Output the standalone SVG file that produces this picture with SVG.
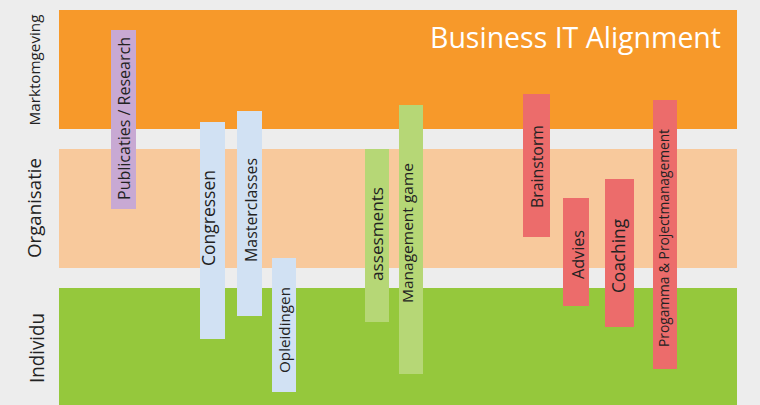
<svg xmlns="http://www.w3.org/2000/svg" width="760" height="405" viewBox="0 0 760 405">
<style>
.lbl{font-family:"Open Sans","Liberation Sans",sans-serif;fill:#222;text-anchor:middle}
.band-lbl{font-family:"Open Sans","Liberation Sans",sans-serif;fill:#222;text-anchor:middle}
.title{font-family:"Open Sans","Liberation Sans",sans-serif;fill:#fff;text-anchor:end}
.pur{fill:#C8A9D3}
.blu{fill:#D1E1F3}
.lgr{fill:#B6D776}
.red{fill:#EC6C6B}
</style>
<rect x="0" y="0" width="760" height="405" fill="#EDEDED"/>
<g id="band-markt">
<rect x="59" y="10" width="678" height="119" fill="#F7992A"/>
<text class="band-lbl" transform="translate(40,70) rotate(-90)" font-size="15" textLength="111" lengthAdjust="spacingAndGlyphs">Marktomgeving</text>
<text class="title" x="721" y="48" font-size="30" textLength="291" lengthAdjust="spacingAndGlyphs">Business IT Alignment</text>
</g>
<g id="band-org">
<rect x="59" y="149" width="678" height="119" fill="#F8C99C"/>
<text class="band-lbl" transform="translate(41,208) rotate(-90)" font-size="18" textLength="100" lengthAdjust="spacingAndGlyphs">Organisatie</text>
</g>
<g id="band-ind">
<rect x="59" y="288" width="678" height="117" fill="#95C83C"/>
<text class="band-lbl" transform="translate(44,348) rotate(-90)" font-size="19.5" textLength="70" lengthAdjust="spacingAndGlyphs">Individu</text>
</g>
<g id="publicaties">
<rect class="pur" x="111" y="30" width="25" height="179"/>
<text class="lbl" transform="translate(130,118.5) rotate(-90)" font-size="16" textLength="163" lengthAdjust="spacingAndGlyphs">Publicaties / Research</text>
</g>
<g id="congressen">
<rect class="blu" x="200" y="122" width="25" height="217"/>
<text class="lbl" transform="translate(214.5,218) rotate(-90)" font-size="17.5" textLength="96" lengthAdjust="spacingAndGlyphs">Congressen</text>
</g>
<g id="masterclasses">
<rect class="blu" x="237" y="111" width="25" height="205"/>
<text class="lbl" transform="translate(256.5,210) rotate(-90)" font-size="16" textLength="104" lengthAdjust="spacingAndGlyphs">Masterclasses</text>
</g>
<g id="opleidingen">
<rect class="blu" x="272" y="258" width="24" height="134"/>
<text class="lbl" transform="translate(290,330) rotate(-90)" font-size="14.5" textLength="86" lengthAdjust="spacingAndGlyphs">Opleidingen</text>
</g>
<g id="assesments">
<rect class="lgr" x="365" y="149" width="24" height="173"/>
<text class="lbl" transform="translate(382.5,234) rotate(-90)" font-size="17" textLength="94" lengthAdjust="spacingAndGlyphs">assesments</text>
</g>
<g id="management-game">
<rect class="lgr" x="399" y="105" width="24" height="269"/>
<text class="lbl" transform="translate(413,233) rotate(-90)" font-size="15" textLength="140" lengthAdjust="spacingAndGlyphs">Management game</text>
</g>
<g id="brainstorm">
<rect class="red" x="523" y="94" width="27" height="143"/>
<text class="lbl" transform="translate(542.5,166.5) rotate(-90)" font-size="16" textLength="83" lengthAdjust="spacingAndGlyphs">Brainstorm</text>
</g>
<g id="advies">
<rect class="red" x="563" y="198" width="26" height="108"/>
<text class="lbl" transform="translate(584,254.5) rotate(-90)" font-size="16" textLength="49" lengthAdjust="spacingAndGlyphs">Advies</text>
</g>
<g id="coaching">
<rect class="red" x="605" y="179" width="29" height="148"/>
<text class="lbl" transform="translate(624.5,256) rotate(-90)" font-size="18" textLength="74" lengthAdjust="spacingAndGlyphs">Coaching</text>
</g>
<g id="programma">
<rect class="red" x="653" y="100" width="24" height="269"/>
<text class="lbl" transform="translate(669,238) rotate(-90)" font-size="14" textLength="218" lengthAdjust="spacingAndGlyphs">Progamma &amp; Projectmanagement</text>
</g>
<g id="connectors"></g>
</svg>
